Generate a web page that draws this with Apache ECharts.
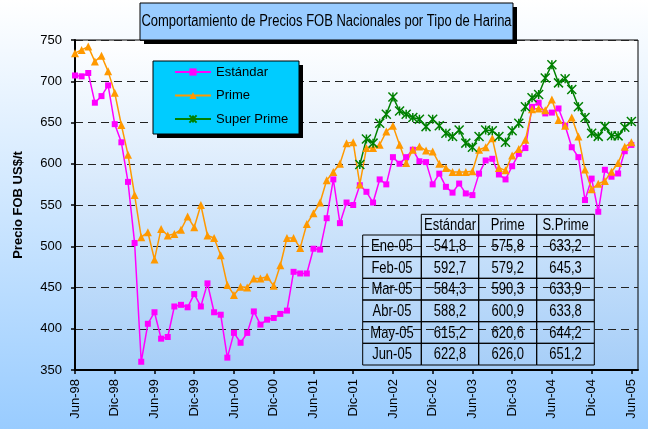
<!DOCTYPE html>
<html>
<head>
<meta charset="utf-8">
<script src="https://cdn.jsdelivr.net/npm/echarts@6/dist/echarts.min.js"></script>
<style>
  html, body { margin: 0; padding: 0; }
  #chart { width: 648px; height: 429px; }
</style>
</head>
<body>
<div id="chart"></div>
<script>
// precios FOB mensuales, Jun-98 .. Jun-05
const monthNames = ['Ene', 'Feb', 'Mar', 'Abr', 'May', 'Jun', 'Jul', 'Ago', 'Sep', 'Oct', 'Nov', 'Dic'];

const estandar = [
  707, 706, 710, 674, 682, 695, 648, 626, 578, 504,
  360, 406, 420, 388, 390, 427, 429, 426, 442, 427,
  455, 420, 417, 365, 395, 383, 395, 421, 405, 411,
  413, 418, 422, 469, 467, 467, 497, 496, 534, 581,
  528, 553, 550, 574, 566, 553, 581, 575, 608, 600,
  608, 617, 603, 602, 575, 588, 572, 565, 576, 564,
  562, 588, 604, 606, 587, 581, 597, 612, 619, 669,
  674, 661, 662, 667, 646, 620, 608, 556, 582, 541.8,
  592.7, 584.3, 588.2, 615.2, 622.8
];
const prime = [
  734, 738, 742, 724, 731, 712, 686, 647, 611, 562,
  511, 517, 484, 521, 513, 515, 520, 536, 523, 550,
  513, 510, 489, 453, 441, 451, 450, 461, 461, 463,
  452, 477, 510, 510, 498, 527, 540, 553, 580, 590,
  600, 625, 626, 575, 619, 619, 623, 639, 646, 623,
  601, 617, 621, 616, 615, 600, 595, 590, 590, 590,
  591, 617, 620, 631, 595, 592, 610, 618, 629, 666,
  667, 665, 678, 653, 646, 656, 633, 593, 569, 575.8,
  579.2, 590.3, 600.9, 620.6, 626.0
];
// Super Prime empieza en Ene-02
const superPrimeStart = 43;
const superPrime = [
  599, 630, 625, 649, 660, 681, 664, 660, 656, 654,
  645, 654, 646, 637, 633, 641, 625, 620, 633, 641,
  640, 633, 626, 640, 649, 669, 680, 684, 704, 720,
  698, 703, 690, 669, 656, 637, 633.2, 645.3, 633.9, 633.8,
  644.2, 651.2
];

// Jun-98 .. Jul-05 (el ultimo solo alarga el eje)
const categories = [];
for (let i = 0; i < 86; i++) {
  const k = 5 + i;
  const yy = (98 + Math.floor(k / 12)) % 100;
  categories.push(monthNames[k % 12] + '-' + String(yy).padStart(2, '0'));
}

const FONT = '"Liberation Sans", Arial, sans-serif';

var chartDom = document.getElementById('chart');
var myChart = echarts.init(chartDom);
var option;

const superData = new Array(superPrimeStart).fill(null).concat(superPrime);

// tabla de los ultimos 6 meses
const tableCols = [362.7, 421.3, 478.7, 536.7, 594.3];
const tableRows = [214.3, 235, 256.7, 278.3, 300, 321.7, 343.3, 365];
const tableHead = ['Estándar', 'Prime', 'S.Prime'];
const n = estandar.length;
const tableMonths = categories.slice(n - 6, n);
const fmt = v => v.toFixed(1).replace('.', ',');

const tableGraphic = [];
function cell(x0, x1, y0, y1, txt) {
  tableGraphic.push({
    type: 'rect', z: 3, silent: true,
    shape: { x: x0, y: y0, width: x1 - x0, height: y1 - y0 },
    style: { fill: null, stroke: '#000', lineWidth: 1 }
  });
  tableGraphic.push({
    type: 'text', z: 4, silent: true,
    x: (x0 + x1) / 2, y: (y0 + y1) / 2 + 1, scaleY: 1.2,
    style: { text: txt, fill: '#000', font: '13px ' + FONT, align: 'center', verticalAlign: 'middle' }
  });
}
for (let c = 0; c < 3; c++) {
  cell(tableCols[c + 1], tableCols[c + 2], tableRows[0], tableRows[1], tableHead[c]);
}
for (let r = 0; r < 6; r++) {
  const y0 = tableRows[r + 1], y1 = tableRows[r + 2];
  cell(tableCols[0], tableCols[1], y0, y1, tableMonths[r]);
  cell(tableCols[1], tableCols[2], y0, y1, fmt(estandar[n - 6 + r]));
  cell(tableCols[2], tableCols[3], y0, y1, fmt(prime[n - 6 + r]));
  cell(tableCols[3], tableCols[4], y0, y1, fmt(superData[n - 6 + r]));
}

option = {
  animation: false,
  backgroundColor: {
    type: 'linear', x: 0, y: 0, x2: 0, y2: 1,
    colorStops: [{ offset: 0, color: '#FFFFFF' }, { offset: 1, color: '#99CCFF' }]
  },
  textStyle: { fontFamily: FONT },
  grid: {
    left: 75, top: 40, right: 10, bottom: 59,
    outerBoundsMode: 'none',
    show: true,
    borderColor: '#000',
    borderWidth: 1,
    backgroundColor: {
      type: 'linear', x: 0, y: 0, x2: 0, y2: 1,
      colorStops: [{ offset: 0, color: '#FFFFFF' }, { offset: 1, color: '#A6CEF8' }]
    }
  },
  legend: {
    orient: 'vertical',
    left: 174, top: 64,
    padding: 0,
    itemWidth: 36, itemHeight: 9,
    itemGap: 7.5,
    z: 5,
    textStyle: { fontFamily: FONT, fontSize: 13, color: '#000', lineHeight: 16 },
    data: ['Estándar', 'Prime', 'Super Prime']
  },
  xAxis: {
    type: 'category',
    boundaryGap: false,
    data: categories,
    axisLine: { lineStyle: { color: '#000', width: 2 } },
    axisTick: { interval: 5, length: 4, inside: false, lineStyle: { color: '#000', width: 1.5 } },
    axisLabel: { interval: 5, rotate: 90, margin: 9, fontSize: 13, color: '#000', fontFamily: FONT },
    splitLine: { show: false }
  },
  yAxis: {
    type: 'value',
    min: 350, max: 750, interval: 50,
    name: 'Precio FOB US$/t',
    nameLocation: 'middle',
    nameRotate: 90,
    nameGap: 50,
    nameTextStyle: { fontSize: 13, fontWeight: 'bold', color: '#000', fontFamily: FONT },
    axisLine: { show: true, lineStyle: { color: '#000', width: 2 } },
    axisTick: { show: true, length: 4, lineStyle: { color: '#000', width: 1.5 } },
    axisLabel: { margin: 13, fontSize: 13, color: '#000', fontFamily: FONT },
    splitLine: { lineStyle: { color: '#222', width: 1, type: [8, 5] } }
  },
  graphic: [
    // caja del titulo
    { type: 'rect', z: 1, silent: true, shape: { x: 144, y: 7, width: 373, height: 37 }, style: { fill: '#000' } },
    { type: 'rect', z: 1, silent: true, shape: { x: 140, y: 3, width: 373, height: 37 }, style: { fill: '#99CCFF', stroke: '#000', lineWidth: 1 } },
    { type: 'text', z: 2, silent: true, x: 326.5, y: 21.5, scaleY: 1.2,
      style: { text: 'Comportamiento de Precios FOB Nacionales por Tipo de Harina', fill: '#000', font: '13px ' + FONT, align: 'center', verticalAlign: 'middle' } },
    // caja de la leyenda
    { type: 'rect', z: 3, silent: true, shape: { x: 157, y: 65, width: 146, height: 73 }, style: { fill: '#000' } },
    { type: 'rect', z: 3, silent: true, shape: { x: 153, y: 61, width: 146, height: 73 }, style: { fill: '#00CCFF', stroke: '#000', lineWidth: 1 } }
  ].concat(tableGraphic),
  series: [
    {
      name: 'Estándar',
      type: 'line',
      data: estandar,
      symbol: 'rect',
      symbolSize: 6,
      showAllSymbol: true,
      color: '#FF00FF',
      lineStyle: { color: '#FF00FF', width: 1.5 },
      itemStyle: { color: '#FF00FF' }
    },
    {
      name: 'Prime',
      type: 'line',
      data: prime,
      symbol: 'triangle',
      symbolSize: 8,
      showAllSymbol: true,
      color: '#FF9900',
      lineStyle: { color: '#FF9900', width: 1.5 },
      itemStyle: { color: '#FF9900' }
    },
    {
      name: 'Super Prime',
      type: 'line',
      data: superData,
      symbol: 'path://M0,0L10,10M10,0L0,10M5,0L5,10',
      symbolSize: 9,
      showAllSymbol: true,
      color: '#008000',
      lineStyle: { color: '#008000', width: 1.5 },
      itemStyle: { color: '#008000', borderColor: '#008000', borderWidth: 1.5 }
    }
  ]
};

option && myChart.setOption(option);
</script>
</body>
</html>
